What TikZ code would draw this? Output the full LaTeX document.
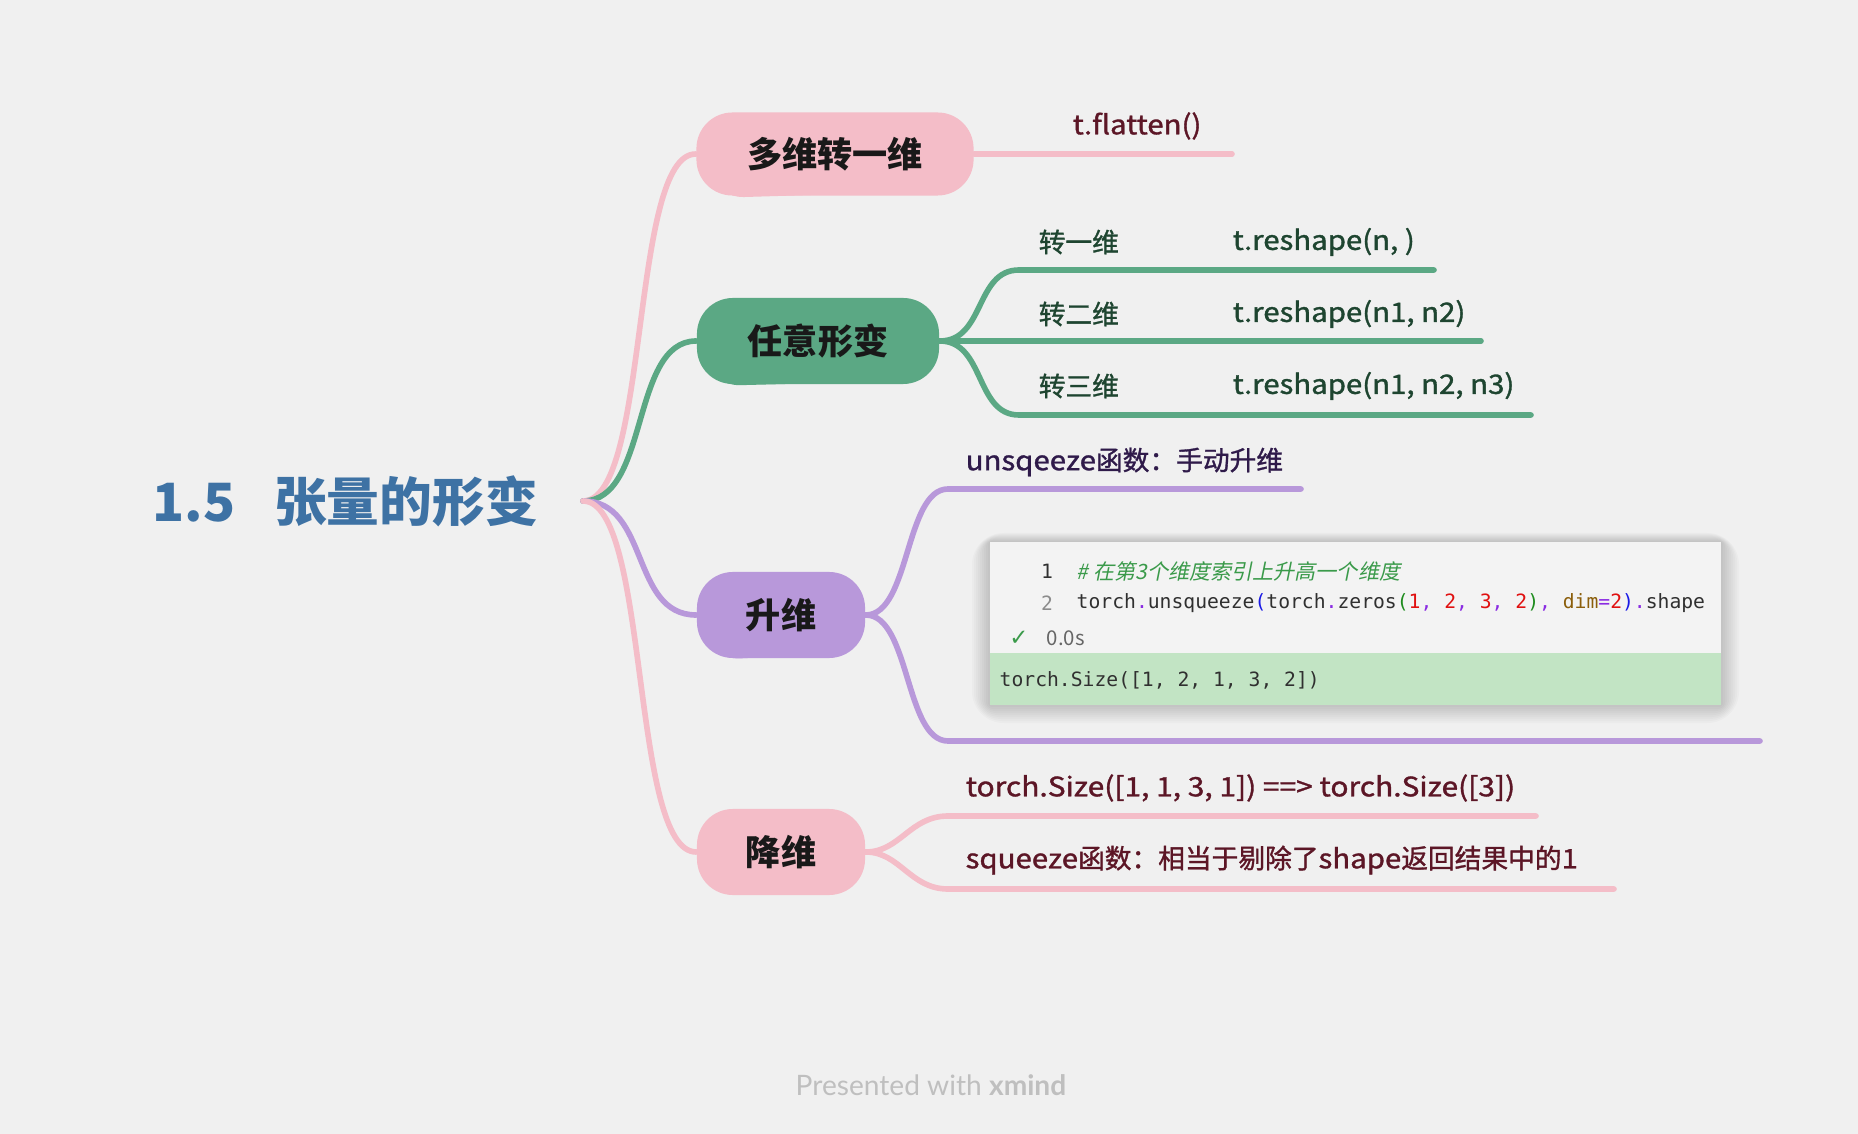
\documentclass[tikz,border=0pt]{standalone}
\usepackage{fontspec}
\usepackage{graphicx}
\setmainfont{Noto Sans CJK SC}
\setmonofont{DejaVu Sans Mono}
\newfontfamily\cjkit{Noto Sans CJK SC}[FakeSlant=0.2]
\newfontfamily\cjks{Noto Sans CJK SC}[FakeBold=1.2]
\newfontfamily\dejavu{DejaVu Sans}
\newfontfamily\footfont{Lato}
\definecolor{bg}{HTML}{F0F0F0}
\definecolor{pinkc}{HTML}{F4BDC8}
\definecolor{greenc}{HTML}{5BA884}
\definecolor{purplec}{HTML}{B898DA}
\definecolor{titleblue}{HTML}{3E72A4}
\definecolor{darkred}{HTML}{5C1626}
\definecolor{darkgreen}{HTML}{1E4530}
\definecolor{darkpurple}{HTML}{2F1A4A}
\definecolor{codebg}{HTML}{F3F3F3}
\definecolor{outbg}{HTML}{C2E4C4}
\definecolor{cpur}{HTML}{8A2BE2}
\definecolor{cblue}{HTML}{1A1AE6}
\definecolor{cgreen}{HTML}{1E8C1E}
\definecolor{cred}{HTML}{E01010}
\definecolor{cbrown}{HTML}{8B5E0B}
\definecolor{ctext}{HTML}{303030}
\definecolor{ccomment}{HTML}{3A9A4A}
\tikzset{
  mainnode/.style={fill=#1, rounded corners=0.36cm, minimum height=0.86cm, inner sep=0pt,
     font=\fontsize{10}{12}\selectfont\bfseries, text=black!90},
  conn/.style={line width=1.6pt, line cap=round, draw=#1},
  sublabel/.style={anchor=west, inner sep=0pt, font=\fontsize{7.6}{9}\selectfont\cjks, text=#1},
  codetxt/.style={anchor=west, inner sep=0pt, font=\fontsize{5.6}{7}\selectfont\ttfamily, text=ctext},
}
\newcommand{\lt}[1]{\scalebox{1.1}[1]{#1}}
\begin{document}
\begin{tikzpicture}[x=0.01cm, y=-0.01cm]
\useasboundingbox (0,0) rectangle (1858,1134);
\fill[bg] (0,0) rectangle (1858,1134);

% title / root
\node[anchor=west, inner sep=0pt, text=titleblue, font=\fontsize{15}{18}\selectfont\bfseries] (title) at (152,501) {1.5\hspace{11pt}张量的形变};
\coordinate (root) at (583,501);

% sketchy blob underlays
\fill[pinkc, rounded corners=0.32cm] (702,118) -- (966,114) -- (976,190) -- (712,198) -- cycle;
\fill[greenc, rounded corners=0.32cm] (700,302) -- (932,300) -- (940,380) -- (708,386) -- cycle;
\fill[purplec, rounded corners=0.32cm] (700,578) -- (860,574) -- (866,652) -- (708,660) -- cycle;
\fill[pinkc, rounded corners=0.32cm] (700,815) -- (860,811) -- (866,888) -- (708,896) -- cycle;

% main nodes
\node[mainnode=pinkc, minimum width=2.77cm, minimum height=0.83cm] (n1) at (835,154) {多维转一维};
\node[mainnode=greenc, minimum width=2.42cm] (n2) at (818,341) {任意形变};
\node[mainnode=purplec, minimum width=1.68cm] (n3) at (781,615) {升维};
\node[mainnode=pinkc, minimum width=1.68cm] (n4) at (781,852) {降维};

% root connectors
\draw[conn=pinkc] (root) .. controls (650,501) and (630,154) .. (n1.west);
\draw[conn=greenc] (root) .. controls (650,501) and (630,341) .. (n2.west);
\draw[conn=purplec] (root) .. controls (650,501) and (630,615) .. (n3.west);
\draw[conn=pinkc] (root) .. controls (650,501) and (630,852) .. (n4.west);

% branch 1
\coordinate (e1) at (1232,154);
\draw[conn=pinkc] (n1.east) -- (e1);
\node[sublabel=darkred] (l1) at (1072,126) {\lt{t.flatten()}};

% branch 2
\coordinate (s21) at (1019,270); \coordinate (e21) at (1434,270);
\coordinate (e22) at (1481,341);
\coordinate (s23) at (1019,415); \coordinate (e23) at (1531,415);
\draw[conn=greenc] (n2.east) .. controls (985,341) and (975,270) .. (s21) -- (e21);
\draw[conn=greenc] (n2.east) -- (e22);
\draw[conn=greenc] (n2.east) .. controls (985,341) and (975,415) .. (s23) -- (e23);
\node[sublabel=darkgreen] (l21a) at (1038,242) {转一维};
\node[sublabel=darkgreen] (l21b) at (1232,242) {\lt{t.reshape(n, )}};
\node[sublabel=darkgreen] (l22a) at (1038,314) {转二维};
\node[sublabel=darkgreen] (l22b) at (1232,314) {\lt{t.reshape(n1, n2)}};
\node[sublabel=darkgreen] (l23a) at (1038,386) {转三维};
\node[sublabel=darkgreen] (l23b) at (1232,386) {\lt{t.reshape(n1, n2, n3)}};

% branch 3
\coordinate (s31) at (948,489); \coordinate (e31) at (1301,489);
\coordinate (s32) at (948,741); \coordinate (e32) at (1760,741);
\draw[conn=purplec] (n3.east) .. controls (910,615) and (905,489) .. (s31) -- (e31);
\draw[conn=purplec] (n3.east) .. controls (910,615) and (905,741) .. (s32) -- (e32);
\node[sublabel=darkpurple] (l31) at (965,462) {\lt{unsqeeze}函数：手动升维};

% code box
\foreach \i in {1,...,9}{
  \fill[black, opacity=0.018, rounded corners=\i pt] (990-\i*2,542-\i*1) rectangle (1721+\i*2,705+\i*2);
}
\fill[codebg] (990,542) rectangle (1721,653);
\fill[outbg] (990,653) rectangle (1721,705);
\node[codetxt, anchor=center, text=ctext] (ln1) at (1047,571) {1};
\node[codetxt, text=ccomment, font=\fontsize{6}{7}\selectfont\cjkit] (cm1) at (1076,571) {\# 在第3个维度索引上升高一个维度};
\node[codetxt, anchor=center, text=black!45] (ln2) at (1047,603) {2};
\node[codetxt] (cl2) at (1076,603) {torch{\color{cpur}.}unsqueeze{\color{cblue}(}torch{\color{cpur}.}zeros{\color{cgreen}(}{\color{cred}1}{\color{cpur},} {\color{cred}2}{\color{cpur},} {\color{cred}3}{\color{cpur},} {\color{cred}2}{\color{cgreen})}{\color{cpur},} {\color{cbrown}dim}{\color{cpur}=}{\color{cred}2}{\color{cblue})}{\color{cpur}.}shape};
\node[anchor=center, inner sep=0pt, text=ccomment, font=\fontsize{6.5}{7}\selectfont\dejavu] (chk) at (1019,638) {✓};
\node[anchor=west, inner sep=0pt, text=black!60, font=\fontsize{5.8}{7}\selectfont] (tm) at (1046,638) {0.0s};
\node[codetxt] (out) at (999,680) {torch.Size([1, 2, 1, 3, 2])};

% branch 4
\coordinate (s41) at (948,816); \coordinate (e41) at (1536,816);
\coordinate (s42) at (948,889); \coordinate (e42) at (1614,889);
\draw[conn=pinkc] (n4.east) .. controls (900,852) and (910,816) .. (s41) -- (e41);
\draw[conn=pinkc] (n4.east) .. controls (900,852) and (910,889) .. (s42) -- (e42);
\node[sublabel=darkred] (l41) at (965,788) {\scalebox{1.12}[1]{torch.Size([1, 1, 3, 1]) ==> torch.Size([3])}};
\node[sublabel=darkred] (l42) at (965,860) {\lt{squeeze}函数：相当于剔除了\lt{shape}返回结果中的\lt{1}};

% footer
\node[inner sep=0pt, text=black!25, font=\fontsize{8}{10}\selectfont\footfont] (foot) at (931,1085) {Presented with \textbf{xmind}};
\end{tikzpicture}
\end{document}
